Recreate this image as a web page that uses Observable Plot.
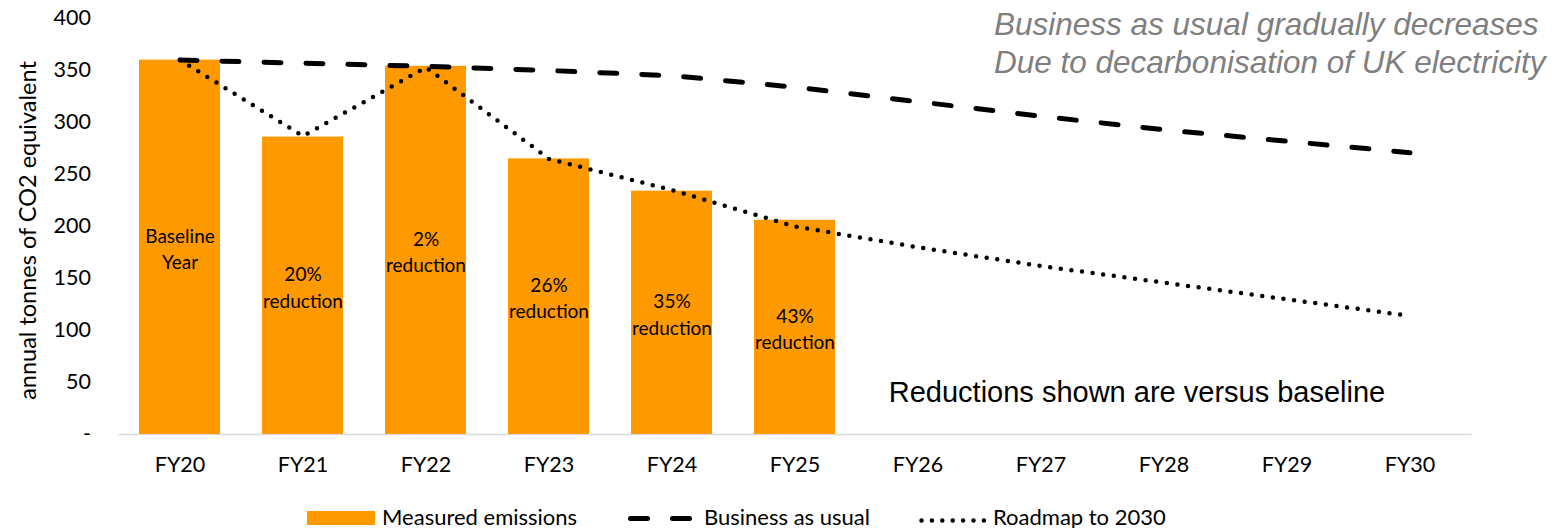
<!DOCTYPE html>
<html>
<head>
<meta charset="utf-8">
<script src="https://cdn.jsdelivr.net/npm/d3@7"></script>
<script src="https://cdn.jsdelivr.net/npm/@observablehq/plot@0.6"></script>
<style>
  html, body { margin: 0; padding: 0; background: #fff; }
  body { width: 1556px; height: 528px; overflow: hidden; position: relative; font-family: Lato, sans-serif; }
  #legend { position: absolute; left: 0; top: 0; width: 1556px; height: 528px; pointer-events: none; font-family: Lato, sans-serif; font-size: 22px; color: #000; white-space: nowrap; }
  #legend .sw { position: absolute; display: block; }
  #legend .lbl { position: absolute; top: 503px; line-height: 28px; }
</style>
</head>
<body>
<div id="chart"></div>
<div id="legend"></div>
<script>
// ---- data ----
const years = ["FY20", "FY21", "FY22", "FY23", "FY24", "FY25", "FY26", "FY27", "FY28", "FY29", "FY30"];
const measuredYears = ["FY20", "FY21", "FY22", "FY23", "FY24", "FY25"];
const measuredEmissions = [360, 286, 354, 265, 234, 206];
const measuredLabels = ["Baseline\nYear", "20%\nreduction", "2%\nreduction", "26%\nreduction", "35%\nreduction", "43%\nreduction"];
const businessAsUsual = [360, 357, 354, 350, 345, 334, 320, 306, 293, 282, 271];
const roadmap2030 = [360, 287, 353, 265, 235, 200, 180, 162, 146, 130, 114];
const yTicks = [0, 50, 100, 150, 200, 250, 300, 350, 400];
const yLabel = "annual tonnes of CO2 equivalent";
const noteTop = "Business as usual gradually decreases\nDue to decarbonisation of UK electricity";
const noteBottom = "Reductions shown are versus baseline";
const seriesNames = ["Measured emissions", "Business as usual", "Roadmap to 2030"];

const orange = "#ff9900";

const bars = measuredYears.map((year, i) => ({year, value: measuredEmissions[i], label: measuredLabels[i]}));
const bau = years.map((year, i) => ({year, value: businessAsUsual[i]}));
const road = years.map((year, i) => ({year, value: roadmap2030[i]}));

const chart = Plot.plot({
  width: 1556,
  height: 495,
  marginLeft: 118.5,
  marginRight: 84.5,
  marginTop: 18,
  marginBottom: 61,
  style: {fontFamily: "Lato, sans-serif", color: "#000", background: "#fff", overflow: "visible"},
  x: {domain: years, paddingInner: 0.34, paddingOuter: 0.17},
  y: {domain: [0, 400]},
  marks: [
    Plot.ruleY([0], {stroke: "#d9d9d9", strokeWidth: 1.5}),
    Plot.barY(bars, {x: "year", y: "value", fill: orange}),
    Plot.text(bars, {x: "year", y: d => d.value / 2, text: "label", fontSize: 19, lineHeight: 1.4, fill: "#000"}),
    Plot.line(bau, {x: "year", y: "value", stroke: "#000", strokeWidth: 5, strokeDasharray: "17,25", strokeLinecap: "round"}),
    Plot.line(road, {x: "year", y: "value", stroke: "#000", strokeWidth: 4.5, strokeDasharray: "0,10.7", strokeLinecap: "round"}),
    Plot.axisX({tickSize: 0, tickPadding: 22, fontSize: 21.5, label: null}),
    Plot.axisY({ticks: yTicks, tickSize: 0, tickPadding: 28, fontSize: 21.5, tickFormat: d => d === 0 ? "-" : String(d), label: null}),
    Plot.text([yLabel], {frameAnchor: "left", textAnchor: "middle", lineAnchor: "middle", dx: -91, dy: 4, rotate: -90, fontSize: 23.5, fill: "#000"}),
    Plot.text([noteTop], {x: () => "FY27", frameAnchor: "top", dx: -47, dy: -10, lineAnchor: "top", textAnchor: "start", fontSize: 31.5, lineHeight: 1.2, fontStyle: "italic", fontFamily: "Liberation Sans, Arial, sans-serif", fill: "#7f7f7f"}),
    Plot.text([noteBottom], {x: () => "FY28", y: () => 40, dx: -27, fontSize: 29, fontFamily: "Liberation Sans, Arial, sans-serif", fill: "#000"})
  ]
});
document.getElementById("chart").appendChild(chart);

// ---- legend (below the chart) ----
const legend = d3.select("#legend");
function swatch(left, top, w, h, draw) {
  const svg = legend.append("svg").attr("class", "sw").attr("width", w).attr("height", h)
    .style("left", left + "px").style("top", top + "px");
  draw(svg);
}
swatch(307, 511, 68, 14, svg => svg.append("rect").attr("width", 68).attr("height", 14).attr("fill", orange));
swatch(625, 508, 72, 20, svg => svg.append("line").attr("x1", 5.5).attr("x2", 68).attr("y1", 10.5).attr("y2", 10.5)
  .attr("stroke", "#000").attr("stroke-width", 5).attr("stroke-linecap", "round").attr("stroke-dasharray", "17,25"));
swatch(918, 508, 70, 20, svg => svg.append("line").attr("x1", 3.5).attr("x2", 66).attr("y1", 12.5).attr("y2", 12.5)
  .attr("stroke", "#000").attr("stroke-width", 4.5).attr("stroke-linecap", "round").attr("stroke-dasharray", "0,10.4"));
[382, 704, 993].forEach((left, i) => {
  legend.append("span").attr("class", "lbl").style("left", left + "px").text(seriesNames[i]);
});
</script>
</body>
</html>
